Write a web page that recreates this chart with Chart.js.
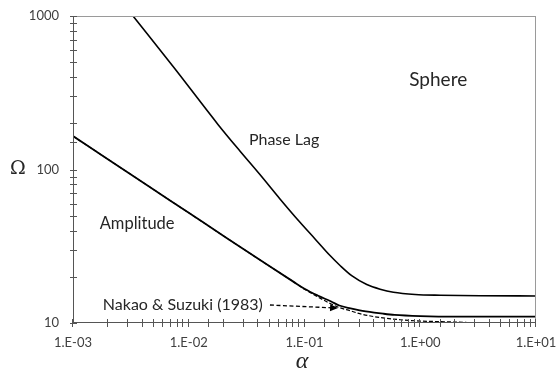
<!DOCTYPE html>
<html>
<head>
<meta charset="utf-8">
<script src="https://cdn.jsdelivr.net/npm/chart.js@4"></script>
<style>
html,body{margin:0;padding:0;background:#fff;}
#wrap{width:556px;height:372px;position:relative;}
</style>
</head>
<body>
<div id="wrap"><canvas id="c" width="556" height="372"></canvas></div>
<script>
// Data
const phaseLagAlpha = [0.0033, 0.00759, 0.01795, 0.02767, 0.0412, 0.0614, 0.0914, 0.1233, 0.1662, 0.2028, 0.2576, 0.345, 0.45, 0.586, 0.903, 1.49, 3.3, 10];
const phaseLagOmega = [1000, 453, 196, 132, 92.7, 64.3, 45.3, 35.3, 27.5, 23.7, 20.25, 17.8, 16.6, 15.86, 15.35, 15.17, 15.05, 15.0];

const amplitudeAlpha = [0.001, 0.002, 0.005, 0.01, 0.02, 0.05, 0.08, 0.1, 0.13, 0.17, 0.2, 0.25, 0.3, 0.4, 0.478, 0.6, 1.0, 2.0, 4.0, 10];
const amplitudeOmega = [165, 116.7, 73.8, 52.2, 36.9, 23.4, 18.6, 16.7, 15.1, 13.8, 13.0, 12.45, 12.1, 11.7, 11.5, 11.3, 11.1, 11.0, 11.0, 11.0];

const nakaoAlpha = [0.001, 0.002, 0.005, 0.01, 0.02, 0.05, 0.08, 0.1, 0.13, 0.17, 0.2, 0.25, 0.3, 0.4, 0.5, 0.67, 1.0, 1.5, 2.5];
const nakaoOmega = [165, 116.7, 73.8, 52.2, 36.9, 23.4, 18.6, 16.6, 14.8, 13.3, 12.6, 12.0, 11.5, 11.0, 10.75, 10.5, 10.3, 10.2, 10.1];

const xTickLabels = ['1.E-03', '1.E-02', '1.E-01', '1.E+00', '1.E+01'];
const yTickLabels = ['10', '100', '1000'];

const annotations = [
  {text: 'Sphere', a: 1.43, o: 382, size: 19, align: 'center'},
  {text: 'Phase Lag', a: 0.0331, o: 155, size: 16, align: 'left'},
  {text: 'Amplitude', a: 0.0017, o: 44.2, size: 16.5, align: 'left'},
  {text: 'Nakao & Suzuki (1983)', a: 0.00181, o: 13.1, size: 16, align: 'left'}
];
const arrowFrom = {a: 0.0503, o: 13.1};
const arrowTo = {a: 0.195, o: 12.5};

function pts(xs, ys){ return xs.map((x,i)=>({x:x, y:ys[i]})); }

const FONT = 'Lato, "Open Sans", sans-serif';
const TXT = '#262626';

const crossTicks = {
  id: 'crossTicks',
  afterDraw(chart){
    const ctx = chart.ctx;
    const ca = chart.chartArea;
    const xs = chart.scales.x, ys = chart.scales.y;
    ctx.save();
    // frame (top / right light grey)
    ctx.strokeStyle = '#9a9a9a';
    ctx.lineWidth = 1;
    ctx.beginPath();
    ctx.moveTo(ca.left, ca.top + 0.5); ctx.lineTo(ca.right, ca.top + 0.5);
    ctx.moveTo(ca.right - 0.5, ca.top); ctx.lineTo(ca.right - 0.5, ca.bottom);
    ctx.stroke();
    // axes
    ctx.strokeStyle = '#555';
    ctx.beginPath();
    ctx.moveTo(ca.left + 0.5, ca.top); ctx.lineTo(ca.left + 0.5, ca.bottom);
    ctx.moveTo(ca.left, ca.bottom - 0.5); ctx.lineTo(ca.right, ca.bottom - 0.5);
    ctx.stroke();
    // crossing ticks
    ctx.beginPath();
    xs.ticks.forEach(t => {
      const px = Math.round(xs.getPixelForValue(t.value)) - 0.5;
      ctx.moveTo(px, ca.bottom - 4); ctx.lineTo(px, ca.bottom + 4);
    });
    ys.ticks.forEach(t => {
      const py = Math.round(ys.getPixelForValue(t.value)) + 0.5;
      ctx.moveTo(ca.left - 3, py); ctx.lineTo(ca.left + 4, py);
    });
    ctx.stroke();

    // annotations
    ctx.fillStyle = TXT;
    ctx.textBaseline = 'middle';
    annotations.forEach(an => {
      ctx.font = an.size + 'px ' + FONT;
      ctx.textAlign = an.align;
      ctx.fillText(an.text, xs.getPixelForValue(an.a), ys.getPixelForValue(an.o));
    });
    // arrow
    const x1 = xs.getPixelForValue(arrowFrom.a), y1 = ys.getPixelForValue(arrowFrom.o);
    const x2 = xs.getPixelForValue(arrowTo.a), y2 = ys.getPixelForValue(arrowTo.o);
    const ang = Math.atan2(y2 - y1, x2 - x1);
    ctx.strokeStyle = '#000';
    ctx.lineWidth = 1.3;
    ctx.setLineDash([4, 2.5]);
    ctx.beginPath();
    ctx.moveTo(x1, y1); ctx.lineTo(x2 - 6*Math.cos(ang), y2 - 6*Math.sin(ang));
    ctx.stroke();
    ctx.setLineDash([]);
    ctx.fillStyle = '#000';
    ctx.beginPath();
    ctx.moveTo(x2, y2);
    ctx.lineTo(x2 - 8*Math.cos(ang) + 3.5*Math.sin(ang), y2 - 8*Math.sin(ang) - 3.5*Math.cos(ang));
    ctx.lineTo(x2 - 8*Math.cos(ang) - 3.5*Math.sin(ang), y2 - 8*Math.sin(ang) + 3.5*Math.cos(ang));
    ctx.closePath();
    ctx.fill();

    // axis titles
    ctx.fillStyle = TXT;
    ctx.textAlign = 'center';
    ctx.font = '19px "DejaVu Serif", "Liberation Serif", serif';
    ctx.fillText('Ω', 18, (ca.top + ca.bottom) / 2);
    ctx.font = 'italic 24px "Liberation Serif", "DejaVu Serif", serif';
    ctx.fillText('α', 302, 362);
    ctx.restore();
  }
};

const lineCommon = {
  borderColor: '#000',
  pointRadius: 0,
  fill: false,
  cubicInterpolationMode: 'monotone'
};

new Chart(document.getElementById('c'), {
  type: 'line',
  data: {
    datasets: [
      Object.assign({label: 'Phase Lag', data: pts(phaseLagAlpha, phaseLagOmega), borderWidth: 1.6}, lineCommon),
      Object.assign({label: 'Amplitude', data: pts(amplitudeAlpha, amplitudeOmega), borderWidth: 1.8}, lineCommon),
      Object.assign({label: 'Nakao & Suzuki (1983)', data: pts(nakaoAlpha, nakaoOmega), borderWidth: 1.2, borderDash: [4, 2]}, lineCommon)
    ]
  },
  options: {
    responsive: false,
    animation: false,
    devicePixelRatio: 1,
    layout: {padding: {left: 0, right: 20, top: 16, bottom: 0}},
    plugins: {legend: {display: false}, tooltip: {enabled: false}},
    scales: {
      x: {
        type: 'logarithmic',
        min: 0.001, max: 10,
        border: {display: false},
        grid: {drawOnChartArea: false, drawTicks: true, tickLength: 4, tickColor: 'transparent'},
        ticks: {
          autoSkip: false, maxRotation: 0, padding: 8,
          color: '#404040', font: {size: 13, family: FONT},
          callback: (v) => {
            const l = Math.log10(v);
            if (Math.abs(l - Math.round(l)) < 1e-9) return xTickLabels[Math.round(l) + 3];
            return '';
          }
        },
        afterFit: (s) => { s.height = 49; s.paddingLeft = 0; s.paddingRight = 0; }
      },
      y: {
        type: 'logarithmic',
        min: 10, max: 1000,
        border: {display: false},
        grid: {drawOnChartArea: false, drawTicks: true, tickLength: 4, tickColor: 'transparent'},
        ticks: {
          autoSkip: false, padding: 10,
          color: '#404040', font: {size: 13, family: FONT},
          callback: (v) => {
            const l = Math.log10(v);
            if (Math.abs(l - Math.round(l)) < 1e-9) return yTickLabels[Math.round(l) - 1];
            return '';
          }
        },
        afterFit: (s) => { s.width = 73; s.paddingTop = 0; s.paddingBottom = 0; }
      }
    }
  },
  plugins: [crossTicks]
});
</script>
</body>
</html>
